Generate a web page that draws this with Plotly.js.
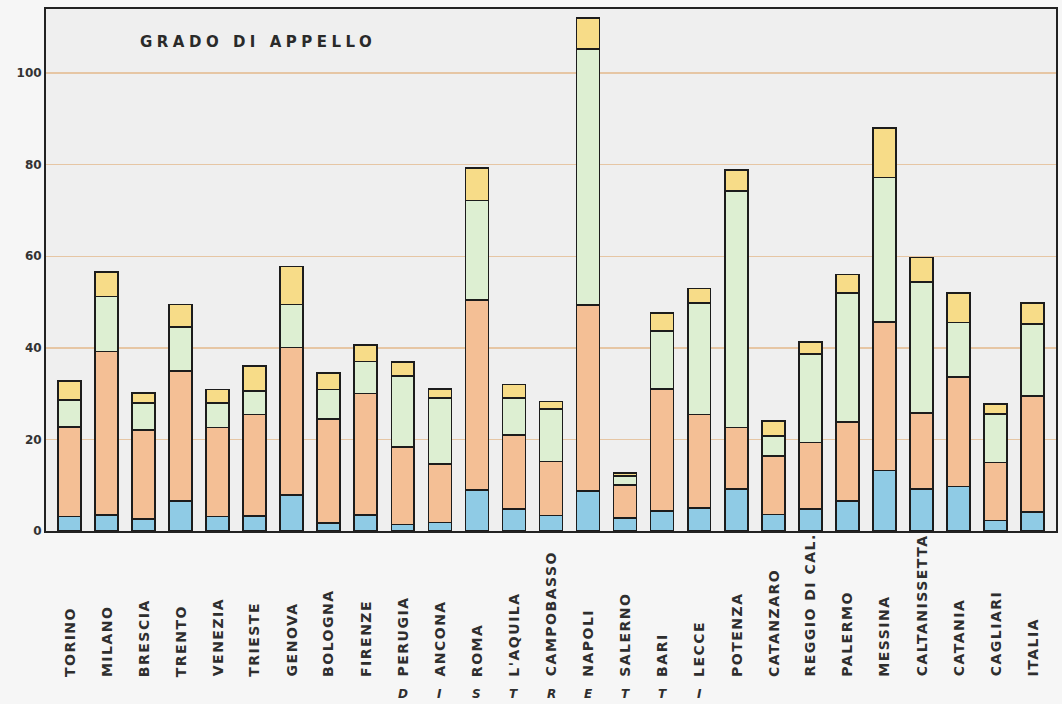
<!DOCTYPE html>
<html>
<head>
<meta charset="utf-8">
<script src="https://cdn.plot.ly/plotly-3.0.1.min.js"></script>
<style>
html,body{margin:0;padding:0;background:#f6f6f6;}
#chart{width:1062px;height:704px;}
</style>
</head>
<body>
<div id="chart"></div>
<script>
// Categories (distretti di corte d'appello)
const categories = ["TORINO","MILANO","BRESCIA","TRENTO","VENEZIA","TRIESTE","GENOVA","BOLOGNA","FIRENZE","PERUGIA","ANCONA","ROMA","L'AQUILA","CAMPOBASSO","NAPOLI","SALERNO","BARI","LECCE","POTENZA","CATANZARO","REGGIO DI CAL.","PALERMO","MESSINA","CALTANISSETTA","CATANIA","CAGLIARI","ITALIA"];
// Stacked segments (bottom to top)
const blueSeg   = [3.2,3.5,2.6,6.6,3.2,3.3,7.8,1.7,3.5,1.4,1.9,8.9,4.8,3.4,8.8,2.8,4.4,5.0,9.2,3.6,4.8,6.6,13.2,9.2,9.7,2.3,4.2];
const orangeSeg = [19.5,35.7,19.4,28.3,19.4,22.1,32.3,22.7,26.5,16.9,12.7,41.5,16.2,11.8,40.5,7.2,26.6,20.4,13.4,12.8,14.5,17.2,32.5,16.6,23.9,12.7,25.3];
const greenSeg  = [5.9,12.0,6.0,9.7,5.4,5.2,9.4,6.5,7.0,15.5,14.4,21.8,8.0,11.4,56.0,2.0,12.7,24.4,51.6,4.4,19.3,28.2,31.5,28.6,11.9,10.6,15.7];
const yellowSeg = [4.1,5.4,2.1,4.9,2.9,5.4,8.3,3.6,3.6,3.1,2.0,7.1,3.0,1.7,6.7,0.7,3.9,3.2,4.6,3.2,2.7,4.0,10.8,5.3,6.5,2.2,4.6];
// Y tick values
const yTicks = [0,20,40,60,80,100];
// Italic letters under the districts
const distrettiLetters = ["D","I","S","T","R","E","T","T","I"];
const distrettiCats = ["PERUGIA","ANCONA","ROMA","L'AQUILA","CAMPOBASSO","NAPOLI","SALERNO","BARI","LECCE"];
const chartTitle = "GRADO DI APPELLO";

const FONT = "DejaVu Sans, Arial, sans-serif";
const outline = {color:"#1c1c1c", width:1.6};
function seg(vals, color, name){
  return {type:"bar", x:categories, y:vals, name:name, width:0.62,
          marker:{color:color, line:outline}, hoverinfo:"x+y"};
}
const data = [
  seg(blueSeg, "#8fcbe5", "a"),
  seg(orangeSeg, "#f4bf95", "b"),
  seg(greenSeg, "#ddefd2", "c"),
  seg(yellowSeg, "#f7dc88", "d")
];

const annotations = [];
categories.forEach(c => {
  annotations.push({x:c, xref:"x", y:-0.283, yref:"paper", yanchor:"bottom", xanchor:"center",
    textangle:-90, showarrow:false,
    text:'<span style="letter-spacing:1.5px">'+c+'</span>',
    font:{family:FONT, size:14, color:"#2e2e2e", weight:"bold"}});
});
distrettiLetters.forEach((l,i) => {
  annotations.push({x:distrettiCats[i], xref:"x", y:-0.312, yref:"paper", yanchor:"middle", xanchor:"center",
    showarrow:false, text:"<i>"+l+"</i>",
    font:{family:FONT, size:12, color:"#2e2e2e", weight:"bold"}});
});
annotations.push({x:0.091, xref:"paper", y:0.937, yref:"paper", xanchor:"left", yanchor:"middle",
  showarrow:false, text:'<span style="letter-spacing:4.5px">'+chartTitle+'</span>',
  font:{family:FONT, size:15, color:"#2a2a2a", weight:"bold"}});

const layout = {
  width:1062, height:704,
  margin:{l:46, r:6, t:9, b:173},
  paper_bgcolor:"#f6f6f6", plot_bgcolor:"#efefef",
  barmode:"stack", showlegend:false,
  font:{family:FONT, color:"#2e2e2e"},
  xaxis:{type:"category", range:[-0.63, 26.63], showticklabels:false, ticks:"",
         showline:true, linecolor:"#222", linewidth:2, mirror:true, showgrid:false, zeroline:false, fixedrange:true},
  yaxis:{range:[0,114], tickvals:yTicks, showline:true, linecolor:"#222", linewidth:2, mirror:true,
         showgrid:true, gridcolor:"#e6c6a4", gridwidth:1.5, zeroline:false, ticks:"",
         tickfont:{family:FONT, size:12, color:"#333", weight:"bold"}, fixedrange:true},
  annotations:annotations
};
Plotly.newPlot("chart", data, layout, {displayModeBar:false, staticPlot:true});
</script>
</body>
</html>
